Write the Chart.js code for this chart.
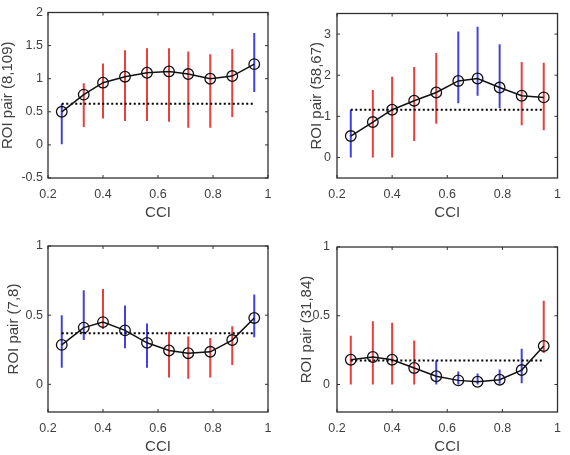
<!DOCTYPE html>
<html><head><meta charset="utf-8">
<script src="https://cdn.jsdelivr.net/npm/chart.js@4.4.0/dist/chart.umd.min.js"></script>
<style>
html,body{margin:0;padding:0;background:#fff;}
#wrap{position:relative;width:570px;height:455px;overflow:hidden;}
canvas{position:absolute;}
</style></head><body>
<div id="wrap">
<canvas id="c1" width="285" height="228" style="left:0;top:0"></canvas>
<canvas id="c2" width="285" height="228" style="left:285px;top:0"></canvas>
<canvas id="c3" width="285" height="227" style="left:0;top:228px"></canvas>
<canvas id="c4" width="285" height="227" style="left:285px;top:228px"></canvas>
</div>
<script>
// ---- data ----
const cci = [0.25, 0.33, 0.40, 0.48, 0.56, 0.64, 0.71, 0.79, 0.87, 0.95];
const xTicks = [0.2, 0.4, 0.6, 0.8, 1];
const xTickLabels = ['0.2', '0.4', '0.6', '0.8', '1'];

const mean1 = [0.50, 0.76, 0.94, 1.03, 1.09, 1.11, 1.07, 1.00, 1.04, 1.22];
const lo1   = [0.01, 0.27, 0.40, 0.36, 0.36, 0.35, 0.26, 0.26, 0.42, 0.80];
const hi1   = [0.62, 0.93, 1.23, 1.43, 1.46, 1.46, 1.41, 1.37, 1.45, 1.69];
const sig1  = ['b', 'r', 'r', 'r', 'r', 'r', 'r', 'r', 'r', 'b'];
const base1 = 0.62;
const yTicks1 = [-0.5, 0, 0.5, 1, 1.5, 2];
const yTickLabels1 = ['-0.5', '0', '0.5', '1', '1.5', '2'];

const mean2 = [0.52, 0.86, 1.16, 1.38, 1.58, 1.86, 1.92, 1.70, 1.50, 1.46];
const lo2   = [0.00, 0.00, 0.00, 0.40, 0.82, 1.32, 1.50, 1.20, 0.78, 0.66];
const hi2   = [1.16, 1.64, 1.96, 2.20, 2.54, 3.06, 3.18, 2.75, 2.32, 2.30];
const sig2  = ['b', 'r', 'r', 'r', 'r', 'b', 'b', 'b', 'r', 'r'];
const base2 = 1.16;
const yTicks2 = [0, 1, 2, 3];
const yTickLabels2 = ['0', '1', '2', '3'];

const mean3 = [0.285, 0.41, 0.45, 0.39, 0.30, 0.245, 0.225, 0.235, 0.32, 0.48];
const lo3   = [0.12, 0.32, 0.40, 0.26, 0.12, 0.05, 0.04, 0.05, 0.14, 0.34];
const hi3   = [0.50, 0.68, 0.69, 0.57, 0.44, 0.38, 0.345, 0.335, 0.42, 0.65];
const sig3  = ['b', 'b', 'r', 'b', 'b', 'r', 'r', 'r', 'r', 'b'];
const base3 = 0.37;
const yTicks3 = [0, 0.5, 1];
const yTickLabels3 = ['0', '0.5', '1'];

const mean4 = [0.18, 0.20, 0.18, 0.12, 0.06, 0.03, 0.02, 0.035, 0.105, 0.28];
const lo4   = [0.00, 0.00, 0.00, 0.00, 0.00, 0.00, 0.00, 0.005, 0.01, 0.23];
const hi4   = [0.355, 0.46, 0.45, 0.32, 0.175, 0.095, 0.08, 0.11, 0.26, 0.61];
const sig4  = ['r', 'r', 'r', 'r', 'b', 'b', 'b', 'b', 'b', 'r'];
const base4 = 0.175;
const yTicks4 = [0, 0.5, 1];
const yTickLabels4 = ['0', '0.5', '1'];

const titles = ['ROI pair (8,109)', 'ROI pair (58,67)', 'ROI pair (7,8)', 'ROI pair (31,84)'];
const xTitle = 'CCI';

// ---- styling ----
const FONT = "'Liberation Sans', Arial, Helvetica, sans-serif";
const TXT = '#404040';
const RED = 'rgba(232,40,40,0.9)';
const BLUE = 'rgba(45,45,225,0.9)';
const TF = 15;   // axis title font size
const KF = 12.5; // tick font size

const boxTicks = {
  id: 'boxTicks',
  afterDatasetsDraw(chart) {
    const {ctx, chartArea: a, scales: {x, y}} = chart;
    ctx.save();
    ctx.strokeStyle = '#303030';
    ctx.lineWidth = 1.3;
    ctx.strokeRect(a.left, a.top, a.right - a.left, a.bottom - a.top);
    const L = 3;
    ctx.lineWidth = 1;
    ctx.beginPath();
    x.ticks.forEach(t => {
      const p = x.getPixelForValue(t.value);
      ctx.moveTo(p, a.bottom); ctx.lineTo(p, a.bottom - L);
      ctx.moveTo(p, a.top); ctx.lineTo(p, a.top + L);
    });
    y.ticks.forEach(t => {
      const p = y.getPixelForValue(t.value);
      ctx.moveTo(a.left, p); ctx.lineTo(a.left + L, p);
      ctx.moveTo(a.right, p); ctx.lineTo(a.right - L, p);
    });
    ctx.stroke();
    ctx.restore();
  }
};

function bars(lo, hi, sig, which) {
  const pts = [];
  cci.forEach((x, i) => {
    if (sig[i] !== which) return;
    pts.push({x, y: lo[i]}, {x, y: hi[i]}, {x, y: null});
  });
  return pts;
}

function make(id, cfg) {
  const {mean, lo, hi, sig, base, ymin, ymax, yT, yTL, title, W, H, L, R, T, B, tc, yPad} = cfg;
  const padL = Math.max(0, tc - TF / 2);
  new Chart(document.getElementById(id), {
    type: 'line',
    data: {
      datasets: [
        {data: bars(lo, hi, sig, 'r'), borderColor: RED, borderWidth: 2, pointRadius: 0, spanGaps: false, order: 3},
        {data: bars(lo, hi, sig, 'b'), borderColor: BLUE, borderWidth: 2, pointRadius: 0, spanGaps: false, order: 3},
        {data: [{x: cci[0], y: base}, {x: cci[cci.length - 1], y: base}], borderColor: '#000', borderWidth: 2, borderDash: [2, 2.5], pointRadius: 0, order: 2},
        {data: cci.map((x, i) => ({x, y: mean[i]})), borderColor: '#111', borderWidth: 1.5, pointRadius: 5.3,
         pointBorderWidth: 1.3, pointBackgroundColor: 'rgba(0,0,0,0)', pointBorderColor: '#111', order: 1}
      ]
    },
    options: {
      responsive: false, animation: false,
      layout: {padding: {left: padL, right: W - R, top: T, bottom: 0}},
      plugins: {legend: {display: false}, tooltip: {enabled: false}},
      scales: {
        x: {
          type: 'linear', min: 0.2, max: 1,
          grid: {display: false, drawTicks: false}, border: {display: false},
          afterBuildTicks: s => { s.ticks = xTicks.map(v => ({value: v})); },
          afterFit: s => { s.height = H - B; },
          ticks: {padding: 9, color: TXT, font: {family: FONT, size: KF}, maxRotation: 0, autoSkip: false,
                  callback: (v, i) => xTickLabels[i]},
          title: {display: true, text: xTitle, color: TXT, font: {family: FONT, size: TF, lineHeight: 1},
                  padding: {top: 0, bottom: H - B - 34.5 - TF / 2}}
        },
        y: {
          type: 'linear', min: ymin, max: ymax,
          grid: {display: false, drawTicks: false}, border: {display: false},
          afterBuildTicks: s => { s.ticks = yT.map(v => ({value: v})); },
          afterFit: s => { s.width = L - padL; },
          ticks: {padding: yPad, color: TXT, font: {family: FONT, size: KF}, autoSkip: false,
                  callback: (v, i) => yTL[i]},
          title: {display: true, text: title, color: TXT, font: {family: FONT, size: TF, lineHeight: 1},
                  padding: {top: 0, bottom: 0}}
        }
      }
    },
    plugins: [boxTicks]
  });
}

make('c1', {mean: mean1, lo: lo1, hi: hi1, sig: sig1, base: base1, ymin: -0.5, ymax: 2, yT: yTicks1, yTL: yTickLabels1,
  title: titles[0], W: 285, H: 228, L: 48, R: 268, T: 12, B: 178, tc: 7.3, yPad: 5});
make('c2', {mean: mean2, lo: lo2, hi: hi2, sig: sig2, base: base2, ymin: -0.5, ymax: 3.5, yT: yTicks2, yTL: yTickLabels2,
  title: titles[1], W: 285, H: 228, L: 52, R: 276, T: 10, B: 178, tc: 31.7, yPad: 6});
make('c3', {mean: mean3, lo: lo3, hi: hi3, sig: sig3, base: base3, ymin: -0.2, ymax: 1, yT: yTicks3, yTL: yTickLabels3,
  title: titles[2], W: 285, H: 227, L: 48, R: 268, T: 18, B: 184, tc: 13.7, yPad: 5});
make('c4', {mean: mean4, lo: lo4, hi: hi4, sig: sig4, base: base4, ymin: -0.2, ymax: 1, yT: yTicks4, yTL: yTickLabels4,
  title: titles[3], W: 285, H: 227, L: 52, R: 276, T: 19, B: 184, tc: 21.7, yPad: 7});
</script>
</body></html>
